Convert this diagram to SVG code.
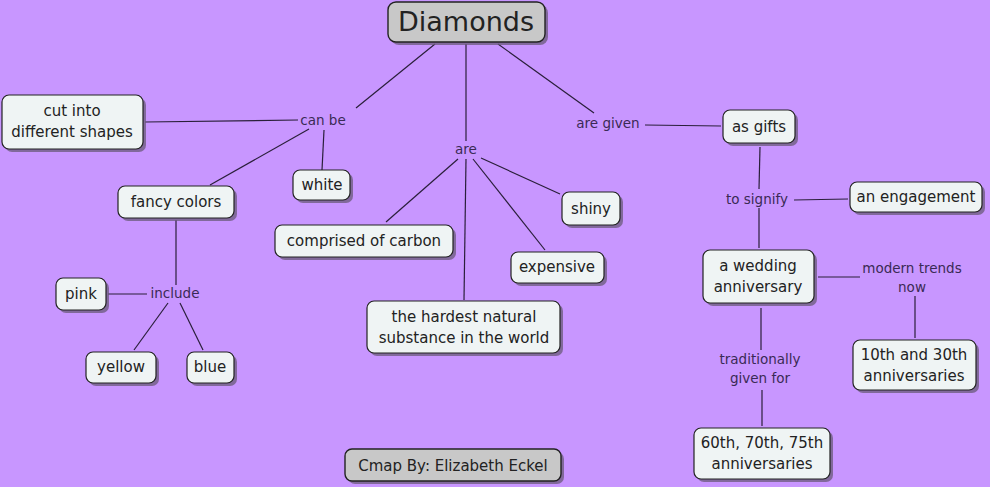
<svg xmlns="http://www.w3.org/2000/svg" width="990" height="487" viewBox="0 0 990 487">
<defs>
<style>
.bg{fill:#C896FF}
.sh{fill:#6a5a7a;opacity:0.75}
.nd{fill:#EFF4F4;stroke:#222;stroke-width:1.2}
.tt{fill:#C8C8C8;stroke:#222;stroke-width:1.4}
.t{font-family:"DejaVu Sans",sans-serif;font-size:15px;fill:#222;text-anchor:middle}
.lb{font-family:"DejaVu Sans",sans-serif;font-size:13.5px;fill:#3a2a55;text-anchor:middle}
.ln{stroke:#2a1f3a;stroke-width:1.2;fill:none}
</style>
</defs>
<rect class="bg" x="0" y="0" width="990" height="487"/>
<g id="connectors">
<line class="ln" x1="435" y1="44" x2="356" y2="108"/>
<line class="ln" x1="145" y1="122" x2="298" y2="120"/>
<line class="ln" x1="309" y1="129" x2="210" y2="185"/>
<line class="ln" x1="324" y1="130" x2="322" y2="170"/>
<line class="ln" x1="466" y1="44" x2="466" y2="141"/>
<line class="ln" x1="458" y1="159" x2="386" y2="222"/>
<line class="ln" x1="466" y1="159" x2="464" y2="300"/>
<line class="ln" x1="473" y1="159" x2="545" y2="250"/>
<line class="ln" x1="481" y1="158" x2="560" y2="194"/>
<line class="ln" x1="498" y1="44" x2="594" y2="113"/>
<line class="ln" x1="645" y1="125" x2="721" y2="126"/>
<line class="ln" x1="760" y1="147" x2="759" y2="189"/>
<line class="ln" x1="794" y1="200" x2="848" y2="199"/>
<line class="ln" x1="759" y1="208" x2="759" y2="248"/>
<line class="ln" x1="818" y1="277" x2="860" y2="277"/>
<line class="ln" x1="915" y1="296" x2="915" y2="338"/>
<line class="ln" x1="761" y1="308" x2="761" y2="350"/>
<line class="ln" x1="762" y1="390" x2="762" y2="426"/>
<line class="ln" x1="176" y1="220" x2="176" y2="285"/>
<line class="ln" x1="108" y1="294" x2="147" y2="294"/>
<line class="ln" x1="168" y1="303" x2="134" y2="350"/>
<line class="ln" x1="180" y1="303" x2="203" y2="350"/>
</g>
<g id="labels">
<text class="lb" x="323" y="125">can be</text>
<text class="lb" x="466" y="154">are</text>
<text class="lb" x="608" y="128">are given</text>
<text class="lb" x="757" y="204">to signify</text>
<text class="lb" x="175" y="298">include</text>
<text class="lb" x="912" y="273">modern trends</text>
<text class="lb" x="912" y="292">now</text>
<text class="lb" x="760" y="364">traditionally</text>
<text class="lb" x="760" y="383">given for</text>
</g>
<g id="n-diamonds">
<rect class="sh" x="391" y="5" width="157" height="40" rx="8"/>
<rect class="tt" x="388" y="2" width="157" height="40" rx="8"/>
<text class="t" x="466" y="31" style="font-size:27px">Diamonds</text>
</g>
<g id="n-cut">
<rect class="sh" x="5" y="98" width="141" height="54" rx="7"/>
<rect class="nd" x="2" y="95" width="141" height="54" rx="7"/>
<text class="t" x="72" y="116">cut into</text>
<text class="t" x="72" y="137">different shapes</text>
</g>
<g id="n-white">
<rect class="sh" x="296" y="173" width="57" height="30" rx="7"/>
<rect class="nd" x="293" y="170" width="57" height="30" rx="7"/>
<text class="t" x="322" y="190">white</text>
</g>
<g id="n-fancy">
<rect class="sh" x="121" y="189" width="116" height="32" rx="7"/>
<rect class="nd" x="118" y="186" width="116" height="32" rx="7"/>
<text class="t" x="176" y="207">fancy colors</text>
</g>
<g id="n-pink">
<rect class="sh" x="59" y="281" width="50" height="32" rx="7"/>
<rect class="nd" x="56" y="278" width="50" height="32" rx="7"/>
<text class="t" x="81" y="299">pink</text>
</g>
<g id="n-yellow">
<rect class="sh" x="89" y="355" width="70" height="31" rx="7"/>
<rect class="nd" x="86" y="352" width="70" height="31" rx="7"/>
<text class="t" x="121" y="372">yellow</text>
</g>
<g id="n-blue">
<rect class="sh" x="190" y="355" width="47" height="31" rx="7"/>
<rect class="nd" x="187" y="352" width="47" height="31" rx="7"/>
<text class="t" x="210" y="372">blue</text>
</g>
<g id="n-carbon">
<rect class="sh" x="278" y="228" width="178" height="32" rx="7"/>
<rect class="nd" x="275" y="225" width="178" height="32" rx="7"/>
<text class="t" x="364" y="246">comprised of carbon</text>
</g>
<g id="n-shiny">
<rect class="sh" x="565" y="195" width="58" height="33" rx="7"/>
<rect class="nd" x="562" y="192" width="58" height="33" rx="7"/>
<text class="t" x="591" y="214">shiny</text>
</g>
<g id="n-expensive">
<rect class="sh" x="514" y="255" width="93" height="31" rx="7"/>
<rect class="nd" x="511" y="252" width="93" height="31" rx="7"/>
<text class="t" x="557" y="272">expensive</text>
</g>
<g id="n-hardest">
<rect class="sh" x="370" y="304" width="193" height="52" rx="7"/>
<rect class="nd" x="367" y="301" width="193" height="52" rx="7"/>
<text class="t" x="464" y="322">the hardest natural</text>
<text class="t" x="464" y="343">substance in the world</text>
</g>
<g id="n-gifts">
<rect class="sh" x="726" y="113" width="72" height="33" rx="7"/>
<rect class="nd" x="723" y="110" width="72" height="33" rx="7"/>
<text class="t" x="759" y="132">as gifts</text>
</g>
<g id="n-engagement">
<rect class="sh" x="853" y="185" width="132" height="30" rx="7"/>
<rect class="nd" x="850" y="182" width="132" height="30" rx="7"/>
<text class="t" x="916" y="202">an engagement</text>
</g>
<g id="n-wedding">
<rect class="sh" x="706" y="253" width="111" height="53" rx="7"/>
<rect class="nd" x="703" y="250" width="111" height="53" rx="7"/>
<text class="t" x="758" y="271">a wedding</text>
<text class="t" x="758" y="292">anniversary</text>
</g>
<g id="n-10th">
<rect class="sh" x="856" y="343" width="123" height="50" rx="7"/>
<rect class="nd" x="853" y="340" width="123" height="50" rx="7"/>
<text class="t" x="914" y="360">10th and 30th</text>
<text class="t" x="914" y="381">anniversaries</text>
</g>
<g id="n-60th">
<rect class="sh" x="697" y="431" width="136" height="51" rx="7"/>
<rect class="nd" x="694" y="428" width="136" height="51" rx="7"/>
<text class="t" x="762" y="448">60th, 70th, 75th</text>
<text class="t" x="762" y="469">anniversaries</text>
</g>
<g id="n-cmap">
<rect class="sh" x="348" y="452" width="216" height="32" rx="7"/>
<rect class="tt" x="345" y="449" width="216" height="32" rx="7"/>
<text class="t" x="453" y="471">Cmap By: Elizabeth Eckel</text>
</g>
</svg>
